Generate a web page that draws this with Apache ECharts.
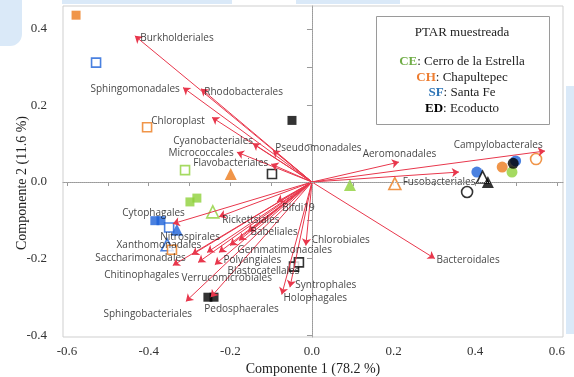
<!DOCTYPE html>
<html>
<head>
<meta charset="utf-8">
<script src="https://cdn.jsdelivr.net/npm/echarts@6/dist/echarts.min.js"></script>
<style>
html,body{margin:0;padding:0;background:#fff;}
#chart{width:574px;height:377px;}
</style>
</head>
<body>
<div id="chart"></div>
<script>
// ---- Sample scores (points) ----
const pointX = [-0.578,-0.529,-0.404,-0.049,-0.311,-0.199,-0.098,0.093,0.203,0.404,0.418,0.431,0.380,0.466,0.490,0.499,0.493,0.549,-0.299,-0.282,-0.243,-0.385,-0.370,-0.350,-0.331,-0.355,-0.343,-0.255,-0.240,-0.044,-0.032];
const pointY = [0.436,0.312,0.143,0.161,0.031,0.021,0.021,-0.008,-0.004,0.026,0.013,0.000,-0.026,0.039,0.026,0.055,0.049,0.060,-0.052,-0.042,-0.078,-0.101,-0.101,-0.119,-0.125,-0.164,-0.177,-0.301,-0.301,-0.221,-0.210];
const pointSite = ['CH','SF','CH','ED','CE','CH','ED','CE','CH','SF','ED','ED','ED','CH','CE','SF','ED','CH','CE','CE','CE','SF','SF','SF','SF','SF','CH','ED','ED','ED','ED'];
const pointShape = ['rect','rect','rect','rect','rect','triangle','rect','triangle','triangle','circle','triangle','triangle','circle','circle','circle','circle','circle','circle','rect','rect','triangle','rect','rect','rect','triangle','triangle','rect','rect','rect','rect','rect'];
const pointFilled = [1,0,0,1,0,1,0,1,0,1,0,1,0,1,1,1,1,0,1,1,0,1,1,0,1,0,0,1,1,0,0];

// ---- Loadings (arrows) ----
const loadingNames = ['Burkholderiales','Sphingomonadales','Rhodobacterales','Chloroplast','Cyanobacteriales','Pseudomonadales','Micrococcales','Flavobacteriales','Aeromonadales','Campylobacterales','Fusobacteriales','Bacteroidales','Chlorobiales','Syntrophales','Holophagales','Blfdi19','Rickettsiales','Cytophagales','Babeliales','Gemmatimonadales','Saccharimonadales','Xanthomonadales','Verrucomicrobiales','Polyangiales','Blastocatellales','Nitrospirales','Chitinophagales','Sphingobacteriales','Pedosphaerales'];
const loadingX = [-0.434,-0.316,-0.272,-0.245,-0.145,-0.096,-0.184,-0.100,0.213,0.571,0.360,0.301,-0.015,-0.054,-0.074,-0.086,-0.228,-0.341,-0.157,-0.179,-0.294,-0.257,-0.279,-0.228,-0.238,-0.201,-0.341,-0.309,-0.248];
const loadingY = [0.382,0.247,0.244,0.169,0.101,0.083,0.078,0.047,0.052,0.081,0.026,-0.200,-0.166,-0.275,-0.294,-0.052,-0.091,-0.109,-0.130,-0.153,-0.190,-0.184,-0.210,-0.184,-0.216,-0.166,-0.218,-0.312,-0.301];
// label anchor points (left edge, middle) in data units
const labelX = [-0.422,-0.544,-0.265,-0.395,-0.341,-0.091,-0.353,-0.292,0.123,0.346,0.221,0.304,-0.002,-0.042,-0.071,-0.074,-0.221,-0.466,-0.152,-0.184,-0.532,-0.480,-0.321,-0.218,-0.208,-0.373,-0.510,-0.512,-0.265];
const labelY = [0.377,0.242,0.236,0.158,0.106,0.088,0.075,0.049,0.073,0.096,0.000,-0.203,-0.153,-0.270,-0.304,-0.068,-0.099,-0.081,-0.132,-0.179,-0.200,-0.164,-0.252,-0.203,-0.234,-0.143,-0.244,-0.345,-0.332];

// ---- Axes ----
const xTickLabels = [-0.6,-0.4,-0.2,0.0,0.2,0.4,0.6];
const xTicks = [-0.6,-0.5,-0.4,-0.3,-0.2,-0.1,0,0.1,0.2,0.3,0.4,0.5,0.6];
const yTickLabels = [-0.4,-0.2,0.0,0.2,0.4];
const yTicks = [-0.4,-0.3,-0.2,-0.1,0,0.1,0.2,0.3,0.4];
const xTitle = 'Componente 1 (78.2 %)';
const yTitle = 'Componente 2 (11.6 %)';

const siteColors = {CE:'#8fd13a', CH:'#ec7a1c', SF:'#1d62d8', ED:'#000000'};
const sizes = {rect:9, triangle:12, circle:11};

const chart = echarts.init(document.getElementById('chart'), null, {renderer:'canvas'});

const pointData = pointX.map((x,i)=>{
  const c = siteColors[pointSite[i]];
  return {
    value:[x,pointY[i]],
    symbol:pointShape[i],
    symbolSize:sizes[pointShape[i]],
    itemStyle: pointFilled[i] ? {color:c, borderColor:c, borderWidth:0} : {color:'#ffffff', borderColor:c, borderWidth:1.6}
  };
});

const arrowData = loadingX.map((x,i)=>({coords:[[0,0],[x,loadingY[i]]]}));
const labelData = labelX.map((x,i)=>[x,labelY[i],loadingNames[i]]);

const serif = 'Liberation Serif, Times New Roman, serif';
const sans = 'Open Sans, Noto Sans, sans-serif';

chart.setOption({
  animation:false,
  grid:{left:63,right:11,top:6,bottom:40,show:true,borderColor:'#cfcfcf',borderWidth:1,backgroundColor:'transparent',containLabel:false,outerBoundsMode:'none'},
  xAxis:{
    type:'value',min:-0.61,max:0.615,
    axisLine:{show:true,lineStyle:{color:'#9a9a9a'}},
    axisTick:{show:true,length:4,lineStyle:{color:'#9a9a9a'},customValues:xTicks},
    axisLabel:{fontFamily:serif,fontSize:13,color:'#333',margin:8,customValues:xTickLabels,formatter:v=>v.toFixed(1)},
    splitLine:{show:false}
  },
  yAxis:{
    type:'value',min:-0.405,max:0.46,
    axisLine:{show:true,lineStyle:{color:'#9a9a9a'}},
    axisTick:{show:true,length:5,lineStyle:{color:'#9a9a9a'},customValues:yTicks},
    axisLabel:{fontFamily:serif,fontSize:13,color:'#333',margin:16,customValues:yTickLabels,formatter:v=>v.toFixed(1)},
    splitLine:{show:false}
  },
  graphic:[
    {type:'rect',z:-10,shape:{x:566,y:86,width:8,height:248},style:{fill:'#dae9f8'}},
    {type:'rect',z:-10,shape:{x:0,y:0,width:22,height:46,r:[0,0,12,0]},style:{fill:'#dae9f8'}},
    {type:'rect',z:-10,shape:{x:62,y:0,width:170,height:4},style:{fill:'#dae9f8'}},
    {type:'rect',z:-10,shape:{x:296,y:0,width:104,height:4},style:{fill:'#dae9f8'}},
    {type:'text',z:10,x:313,y:369,style:{text:xTitle,font:'14px '+serif,fill:'#222',textAlign:'center',textVerticalAlign:'middle'}},
    {type:'text',z:10,x:22,y:183,rotation:Math.PI/2,style:{text:yTitle,font:'14px '+serif,fill:'#222',textAlign:'center',textVerticalAlign:'middle'}},
    {type:'rect',z:50,shape:{x:376.5,y:16.5,width:173,height:108},style:{fill:'#ffffff',stroke:'#9a9a9a',lineWidth:1}},
    {type:'text',z:51,x:462,y:33,style:{text:'PTAR muestreada',font:'13px '+serif,fill:'#222',textAlign:'center',textVerticalAlign:'middle'}},
    {type:'text',z:51,x:462,y:62,style:{text:'{c|CE}: Cerro de la Estrella',font:'13px '+serif,fill:'#222',textAlign:'center',textVerticalAlign:'middle',rich:{c:{fontFamily:serif,fontSize:13,fontWeight:'bold',fill:'#70ad47'}}}},
    {type:'text',z:51,x:462,y:78,style:{text:'{c|CH}: Chapultepec',font:'13px '+serif,fill:'#222',textAlign:'center',textVerticalAlign:'middle',rich:{c:{fontFamily:serif,fontSize:13,fontWeight:'bold',fill:'#ed7d31'}}}},
    {type:'text',z:51,x:462,y:93,style:{text:'{c|SF}: Santa Fe',font:'13px '+serif,fill:'#222',textAlign:'center',textVerticalAlign:'middle',rich:{c:{fontFamily:serif,fontSize:13,fontWeight:'bold',fill:'#2e75b6'}}}},
    {type:'text',z:51,x:462,y:109,style:{text:'{c|ED}: Ecoducto',font:'13px '+serif,fill:'#222',textAlign:'center',textVerticalAlign:'middle',rich:{c:{fontFamily:serif,fontSize:13,fontWeight:'bold',fill:'#000'}}}}
  ],
  series:[
    {
      type:'scatter',z:2,data:pointData,
      markLine:{silent:true,symbol:'none',label:{show:false},
        lineStyle:{type:'dotted',color:'#a8a8a8',width:1},
        data:[{xAxis:0},{yAxis:0}]}
    },
    {
      type:'lines',coordinateSystem:'cartesian2d',z:3,
      symbol:['none','arrow'],symbolSize:7,
      lineStyle:{color:'#e8374c',width:1,opacity:1},
      data:arrowData
    },
    {
      type:'scatter',z:4,symbolSize:1,itemStyle:{color:'transparent'},
      data:labelData,
      label:{show:true,position:'right',distance:0,formatter:p=>p.data[2],
        fontFamily:sans,fontSize:10,color:'#111'}
    }
  ]
});
</script>
</body>
</html>
